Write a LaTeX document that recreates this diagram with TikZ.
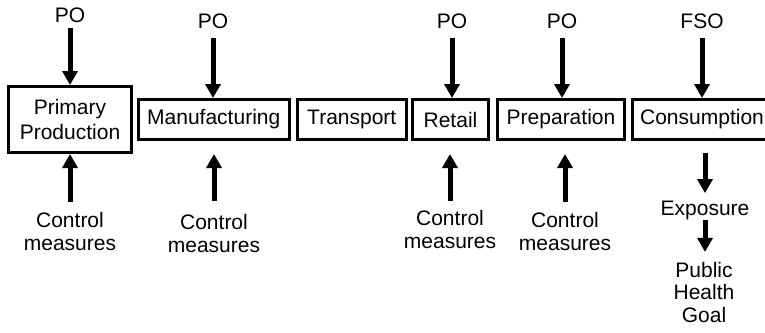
\documentclass[tikz,border=0pt]{standalone}
\usepackage{fontspec}
\setmainfont{Liberation Sans}
\usetikzlibrary{arrows.meta}
\tikzset{
  stage/.style={draw, line width=3pt, minimum height=40pt, inner sep=0pt, align=center},
  flow/.style={line width=5pt, -{Triangle[width=15pt,length=14pt]}},
  note/.style={inner sep=0pt, align=center},
}
\begin{document}
\begin{tikzpicture}[x=1pt, y=-1pt, font=\fontsize{21}{23}\selectfont]
    \useasboundingbox (0,0) rectangle (765,332);
    % chain of stages
    \node [stage, minimum width=123pt, minimum height=66pt, font=\fontsize{21}{25}\selectfont] (pp) at (70,119.5) {Primary\\Production};
    \node [stage, minimum width=150.5pt] (man) at (213.75,119.5) {Manufacturing};
    \node [stage, minimum width=108.5pt] (tra) at (351.75,119.5) {Transport};
    \node [stage, minimum width=76pt] (ret) at (450.5,119.5) {Retail};
    \node [stage, minimum width=127pt] (pre) at (561,119.5) {Preparation};
    \node [stage, minimum width=139pt] (con) at (702,119.5) {Consumption};
    % objectives
    \node [note] (po1) at (70,15) {PO};
    \node [note] (po2) at (213,21) {PO};
    \node [note] (po3) at (452,21) {PO};
    \node [note] (po4) at (562,21) {PO};
    \node [note] (fso) at (702,21) {FSO};
    \draw [flow, shorten <=5.5pt] (po1) -- (pp);
    \draw [flow, shorten <=9.5pt] (po2) -- (po2 |- man.north);
    \draw [flow, shorten <=9.5pt] (po3) -- (po3 |- ret.north);
    \draw [flow, shorten <=9.5pt] (po4) -- (po4 |- pre.north);
    \draw [flow, shorten <=9.5pt] (fso) -- (fso |- con.north);
    % control measures
    \node [note] (cm1) at (70,231.4) {Control\\measures};
    \node [note] (cm2) at (214,233.4) {Control\\measures};
    \node [note] (cm3) at (450,229.4) {Control\\measures};
    \node [note] (cm4) at (565,231.4) {Control\\measures};
    \draw [flow, shorten <=10pt] (cm1) -- (cm1 |- pp.south);
    \draw [flow, shorten <=12.5pt] (cm2) -- (cm2 |- pp.south);
    \draw [flow, shorten <=8.5pt] (cm3) -- (cm3 |- pp.south);
    \draw [flow, shorten <=10pt] (cm4) -- (cm4 |- pp.south);
    % outcome
    \node [note] (expo) at (705,210.2) {Exposure};
    \node [note, font=\fontsize{21}{22.5}\selectfont] (goal) at (704,292.3) {Public\\Health\\Goal};
    \draw [flow, shorten <=12pt, shorten >=7.5pt] (expo |- con.south) -- (expo);
    \draw [flow, shorten >=10pt] (expo) -- (expo |- goal.north);
\end{tikzpicture}
\end{document}
